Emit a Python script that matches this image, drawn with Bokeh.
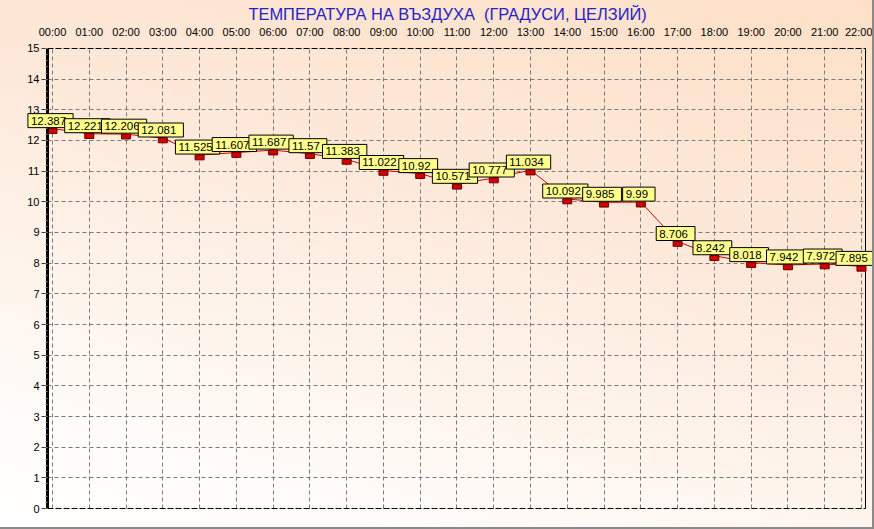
from bokeh.plotting import figure
from bokeh.models import (Range1d, FixedTicker, ColumnDataSource, Title, Label, Grid)
from bokeh.transform import dodge
from bokeh.embed import file_html
from bokeh.resources import INLINE

hours = list(range(23))
hour_labels = ["%02d:00" % h for h in hours]
temps = [12.387, 12.221, 12.206, 12.081, 11.525, 11.607, 11.687, 11.57, 11.383,
         11.022, 10.92, 10.571, 10.777, 11.034, 10.092, 9.985, 9.99, 8.706,
         8.242, 8.018, 7.942, 7.972, 7.895]
temp_labels = [str(t) for t in temps]
y_ticks = list(range(16))
title_text = "ТЕМПЕРАТУРА НА ВЪЗДУХА \u00a0(ГРАДУСИ, ЦЕЛЗИЙ)"

FONT = "Liberation Sans"
X_LO, X_HI = -0.136, 22.11      # plot-area border in data units
Y_LO, Y_HI = 0, 15

src = ColumnDataSource(dict(x=hours, y=temps, lab=temp_labels))

p = figure(frame_width=846, frame_height=474,
           x_range=Range1d(-0.707, 22.30), y_range=Range1d(-0.228, 15.228),
           x_axis_location="above", output_backend="svg", toolbar_location=None,
           min_border_left=26, min_border_right=0, min_border_top=41, min_border_bottom=12)
p.title = None
p.add_layout(Title(text=title_text, text_font=FONT, text_font_size="16.4px",
                   text_font_style="normal", text_color="#2424c8", align="left",
                   standoff=0, offset=222), "above")

p.background_fill_alpha = 0
p.border_fill_alpha = 0
p.outline_line_color = None
p.styles = {"background-image": "linear-gradient(195deg, #fde0c7 0%, #fde9da 40%, #fffcf9 85%, #ffffff 100%)",
            "border-right": "2px solid #8a8a8a", "border-bottom": "2px solid #8a8a8a"}

# top x axis (labels only)
xa = p.xaxis[0]
xa.ticker = FixedTicker(ticks=hours)
xa.bounds = (X_LO, X_HI)
xa.major_label_overrides = {h: l for h, l in zip(hours, hour_labels)}
xa.major_label_text_font = FONT
xa.major_label_text_font_size = "11px"
xa.major_label_text_color = "black"
xa.major_tick_line_color = None
xa.major_tick_out = 0
xa.minor_tick_line_color = None
xa.minor_tick_out = 0
xa.major_label_standoff = 4
xa.axis_line_color = None

# left y axis, fixed at the plot-area border
ya = p.yaxis[0]
ya.fixed_location = X_LO
ya.bounds = (Y_LO, Y_HI)
ya.ticker = FixedTicker(ticks=y_ticks, minor_ticks=[i / 5 for i in range(76)])
ya.major_label_text_font = FONT
ya.major_label_text_font_size = "11px"
ya.major_label_text_color = "black"
ya.axis_line_color = "black"
ya.axis_line_width = 3
ya.major_tick_out = 6
ya.major_tick_in = 0
ya.major_tick_line_color = "#404040"
ya.minor_tick_out = 2
ya.minor_tick_in = 0
ya.minor_tick_line_color = "#808080"
ya.major_label_standoff = 2

# grid inside the plot area
p.xgrid.ticker = FixedTicker(ticks=hours)
p.xgrid.cross_bounds = (Y_LO, Y_HI)
p.ygrid.ticker = FixedTicker(ticks=y_ticks[1:-1])
p.ygrid.cross_bounds = (X_LO, X_HI)
for g in (p.xgrid[0], p.ygrid[0]):
    g.grid_line_color = "#7a7a7a"
    g.grid_line_dash = "4 3"
    g.grid_line_width = 1

# plot-area border: dashed black top/bottom, solid black right
p.add_layout(Grid(dimension=1, ticker=FixedTicker(ticks=[Y_LO, Y_HI]), bounds=(Y_LO, Y_HI),
                  cross_bounds=(X_LO, X_HI), grid_line_color="black", grid_line_dash="6 2"))
p.add_layout(Grid(dimension=0, ticker=FixedTicker(ticks=[X_HI]), bounds=(X_LO, X_HI),
                  cross_bounds=(Y_LO, Y_HI), grid_line_color="black"))

# series
p.line("x", "y", source=src, line_color="#d00000", line_width=1)
p.rect(x="x", y=dodge("y", -0.075, range=p.y_range), width=9, height=5,
       width_units="screen", height_units="screen", source=src,
       fill_color="#d40000", line_color="#6a0000", line_width=1)
for i, (h, t, lab) in enumerate(zip(hours, temps, temp_labels)):
    p.add_layout(Label(x=h, y=t, text=lab, text_font=FONT,
                       text_font_size="11.5px", text_color="black", text_align="center",
                       text_baseline="bottom", y_offset=1,
                       x_offset=(-6 if i == len(hours) - 1 else -2),
                       background_fill_color="#ffff8c", border_line_color="black",
                       border_line_width=1, padding=(3, 7, 3, 3)))

open("out.html", "w").write(file_html(p, INLINE))
